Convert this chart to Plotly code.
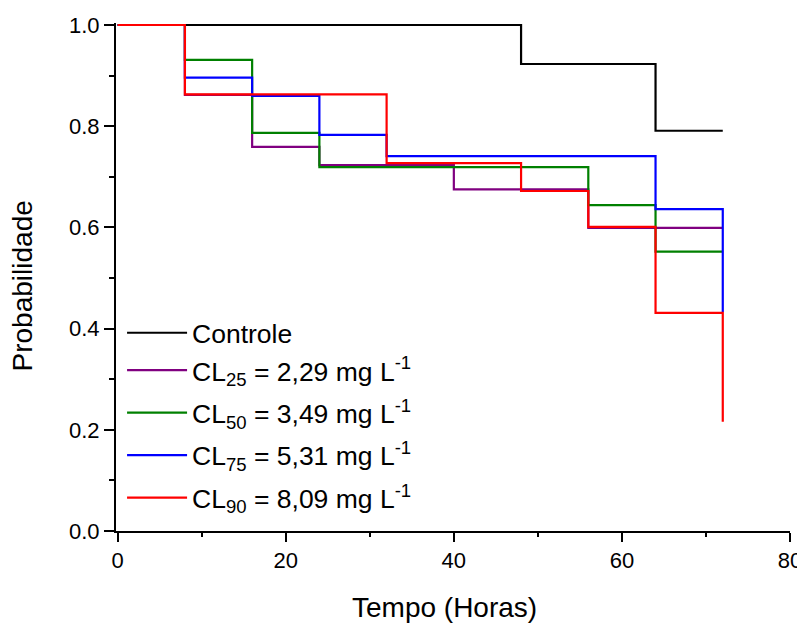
import plotly.graph_objects as go

# Kaplan-Meier style step data (time in hours, survival probability)
t_controle = [0, 48, 64, 72]
p_controle = [1.0, 0.923, 0.791, 0.791]

t_cl25 = [0, 8, 16, 24, 40, 56, 72]
p_cl25 = [1.0, 0.862, 0.759, 0.723, 0.675, 0.599, 0.599]

t_cl50 = [0, 8, 16, 24, 56, 64, 72]
p_cl50 = [1.0, 0.931, 0.787, 0.719, 0.644, 0.552, 0.552]

t_cl75 = [0, 8, 16, 24, 32, 64, 72]
p_cl75 = [1.0, 0.896, 0.860, 0.783, 0.741, 0.636, 0.433]

t_cl90 = [0, 8, 32, 48, 56, 64, 72]
p_cl90 = [1.0, 0.863, 0.727, 0.672, 0.601, 0.431, 0.216]

x_ticks = [0, 20, 40, 60, 80]
y_ticks = [0.0, 0.2, 0.4, 0.6, 0.8, 1.0]
y_ticktext = ["0.0", "0.2", "0.4", "0.6", "0.8", "1.0"]

names = [
    "Controle",
    "CL<sub>25</sub> = 2,29 mg L<sup>-1</sup>",
    "CL<sub>50</sub> = 3,49 mg L<sup>-1</sup>",
    "CL<sub>75</sub> = 5,31 mg L<sup>-1</sup>",
    "CL<sub>90</sub> = 8,09 mg L<sup>-1</sup>",
]
colors = ["#000000", "#800080", "#008000", "#0000FF", "#FF0000"]
groups = ["g1", "g1", "g2", "g3", "g4"]
series = [(t_controle, p_controle), (t_cl25, p_cl25), (t_cl50, p_cl50),
          (t_cl75, p_cl75), (t_cl90, p_cl90)]

fig = go.Figure()
for (t, p), name, c, g in zip(series, names, colors, groups):
    fig.add_trace(go.Scatter(
        x=t, y=p, mode="lines", name=name, legendgroup=g,
        line=dict(color=c, width=2.2, shape="hv"),
    ))

font_family = "Liberation Sans, Arial, sans-serif"
fig.update_layout(
    width=805, height=623,
    margin=dict(l=108, r=23, t=15, b=100, autoexpand=False),
    paper_bgcolor="white", plot_bgcolor="white",
    font=dict(family=font_family, color="black"),
    legend=dict(
        x=0.009, y=0.437, xanchor="left", yanchor="top",
        bgcolor="rgba(0,0,0,0)", borderwidth=0,
        font=dict(size=26.5, family=font_family, color="black"),
        itemwidth=60, tracegroupgap=5, groupclick="toggleitem",
    ),
    xaxis=dict(
        range=[-0.2, 80], tickmode="array",
        tickvals=x_ticks, ticktext=[str(v) for v in x_ticks],
        ticks="outside", ticklen=9, tickwidth=2, tickcolor="black",
        minor=dict(tickvals=[10, 30, 50, 70], ticks="outside", ticklen=4,
                   tickwidth=2, tickcolor="black", showgrid=False),
        showline=True, linecolor="black", linewidth=2,
        showgrid=False, zeroline=False, automargin=False,
        tickfont=dict(size=22, family=font_family),
    ),
    yaxis=dict(
        range=[0, 1.004], tickmode="array",
        tickvals=y_ticks, ticktext=y_ticktext,
        ticks="outside", ticklen=10, tickwidth=2, tickcolor="black",
        minor=dict(tickvals=[0.1, 0.3, 0.5, 0.7, 0.9], ticks="outside", ticklen=5,
                   tickwidth=2, tickcolor="black", showgrid=False),
        showline=True, linecolor="black", linewidth=2,
        showgrid=False, zeroline=False, automargin=False,
        tickfont=dict(size=22, family=font_family),
    ),
    annotations=[
        dict(text="Tempo (Horas)", xref="paper", yref="paper",
             x=0.488, y=-0.150, xanchor="center", yanchor="middle",
             showarrow=False, font=dict(size=28, family=font_family)),
        dict(text="Probabilidade", xref="paper", yref="paper",
             x=-0.139, y=0.482, xanchor="center", yanchor="middle", textangle=-90,
             showarrow=False, borderpad=0,
             font=dict(size=28, family=font_family)),
    ],
)

fig.write_html("out.html")
